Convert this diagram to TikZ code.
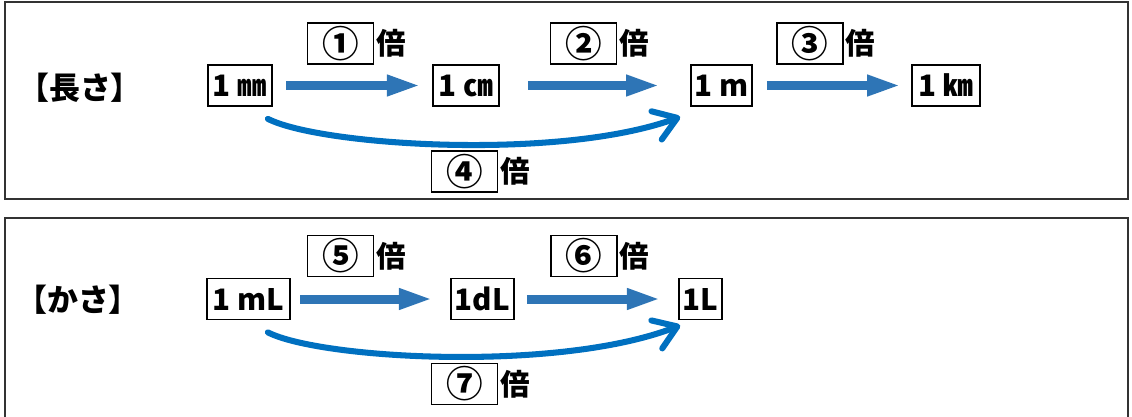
\documentclass[tikz,border=0pt]{standalone}
\usepackage{fontspec}
\setmainfont{Noto Sans CJK JP}
\usepackage{tikz}
\usetikzlibrary{positioning}
\usetikzlibrary{arrows.meta}
\usetikzlibrary{calc}
\definecolor{barblue}{HTML}{2E75B6}
\definecolor{bendblue}{HTML}{0070C0}

\tikzset{
  unitbox/.style={draw, line width=1.2pt, inner sep=1pt, minimum height=1.025cm,
    font=\bfseries\fontsize{21}{24}\selectfont},
  numbox/.style={unitbox, minimum width=1.65cm, font=\bfseries\fontsize{26}{26}\selectfont},
  bai/.style={inner sep=1pt, font=\bfseries\fontsize{21}{24}\selectfont},
  title/.style={inner sep=0pt, font=\bfseries\fontsize{22}{24}\selectfont},
  barrow/.style={barblue, line width=6.4pt,
    -{Triangle[length=0.85cm, width=0.48cm]}},
  bendarrow/.style={bendblue, line width=4.3pt, line cap=round,
    -{Straight Barb[length=0.55cm, width=0.75cm, line cap=round, line join=round]}},
  frame/.style={draw=black!80, line width=1.5pt}
}

\begin{document}
\begin{tikzpicture}[x=0.025cm, y=-0.025cm]

  \useasboundingbox (0,0) rectangle (1132,416);
  \clip (0,0) rectangle (1132,416);

  % outer frames
  \draw[frame] (5,2) rectangle (1128,199);
  \draw[frame] (5,218) rectangle (1128,430);

  % --- length ---
  \node[title] (len) at (80,88) {【長さ】};

  \node[unitbox, minimum width=1.6cm]   (mm) at (240,85.5)   {1 ㎜};
  \node[unitbox, minimum width=1.65cm]  (cm) at (466,85.5)   {1 ㎝};
  \node[unitbox, minimum width=1.525cm] (m)  at (721.5,85.5) {1 m};
  \node[unitbox, minimum width=1.7cm]   (km) at (946,85.5)   {1 ㎞};

  \node[numbox] (n1) at (340.5,43.5) {①};
  \node[numbox] (n2) at (583.5,43.5) {②};
  \node[numbox] (n3) at (810,43.5)   {③};
  \node[numbox] (n4) at (464.5,171.5) {④};
  \node[bai, right=0pt of n1] (b1) {倍};
  \node[bai, right=0pt of n2] (b2) {倍};
  \node[bai, right=0pt of n3] (b3) {倍};
  \node[bai, right=0pt of n4] (b4) {倍};

  \draw[barrow, shorten <=0.33cm, shorten >=0.28cm] (mm.east) -- (cm.west);
  \draw[barrow, shorten <=0.7cm,  shorten >=0.75cm] (cm.east) -- (m.west);
  \draw[barrow, shorten <=0.35cm, shorten >=0.25cm] (m.east)  -- (km.west);

  % bent arrow 1 mm -> 1 m
  \draw[bendarrow] ($(mm.south east)+(-5,12)$)
    .. controls ($(mm.south east)+(48,39)$) and ($(m.south west)+(-131,54)$)
    .. ($(m.south west)+(-10,10)$);

  % --- volume ---
  \node[title] (vol) at (78,300) {【かさ】};

  \node[unitbox, minimum width=2.075cm] (mL) at (248.5,299) {1 mL};
  \node[unitbox, minimum width=1.575cm] (dL) at (482.5,299) {1dL};
  \node[unitbox, minimum width=1.075cm] (L)  at (700.5,299) {1L};

  \node[numbox] (n5) at (340.5,256) {⑤};
  \node[numbox] (n6) at (584,256)   {⑥};
  \node[numbox] (n7) at (464.5,384) {⑦};
  \node[bai, right=0pt of n5] (b5) {倍};
  \node[bai, right=0pt of n6] (b6) {倍};
  \node[bai, right=0pt of n7] (b7) {倍};

  \draw[barrow, shorten <=0.23cm, shorten >=0.43cm] (mL.east) -- (dL.west);
  \draw[barrow, shorten <=0.3cm,  shorten >=0.43cm] (dL.east) -- (L.west);

  % bent arrow 1 mL -> 1 L
  \draw[bendarrow] ($(mL.south east)+(-23,12)$)
    .. controls ($(mL.south east)+(30,39)$) and ($(L.south west)+(-119,52)$)
    .. ($(L.south west)+(2,5)$);

\end{tikzpicture}
\end{document}
